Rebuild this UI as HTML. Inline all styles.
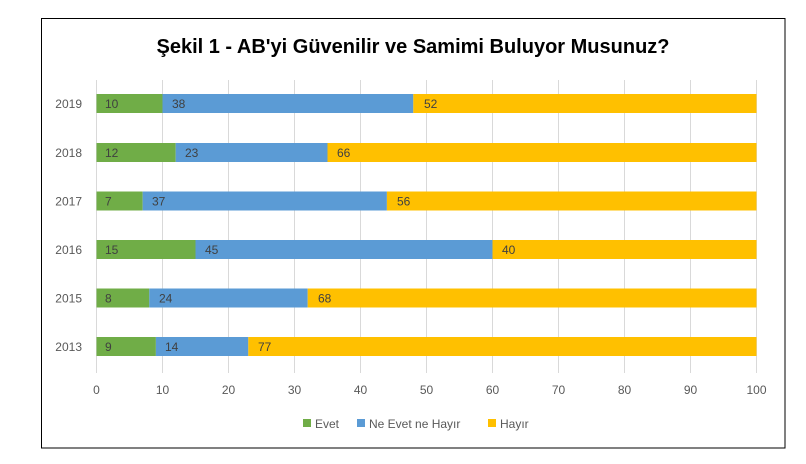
<!DOCTYPE html>
<html><head><meta charset="utf-8"><style>
body{margin:0;background:#fff;}
svg text{font-family:"Liberation Sans",sans-serif;}
</style></head><body>
<svg width="806" height="459" xmlns="http://www.w3.org/2000/svg">
<rect x="0" y="0" width="806" height="459" fill="#fff"/>
<rect x="41.5" y="18.5" width="743.5" height="429.5" fill="#fff" stroke="#000" stroke-width="1"/>
<text x="413" y="53" text-anchor="middle" font-size="20" font-weight="bold" fill="#000">Şekil 1 - AB'yi Güvenilir ve Samimi Buluyor Musunuz?</text>
<g stroke="#d9d9d9" stroke-width="1">
<line x1="96.5" y1="80" x2="96.5" y2="373"/><line x1="162.5" y1="80" x2="162.5" y2="373"/><line x1="228.5" y1="80" x2="228.5" y2="373"/><line x1="294.5" y1="80" x2="294.5" y2="373"/><line x1="360.5" y1="80" x2="360.5" y2="373"/><line x1="426.5" y1="80" x2="426.5" y2="373"/><line x1="492.5" y1="80" x2="492.5" y2="373"/><line x1="558.5" y1="80" x2="558.5" y2="373"/><line x1="624.5" y1="80" x2="624.5" y2="373"/><line x1="690.5" y1="80" x2="690.5" y2="373"/><line x1="756.5" y1="80" x2="756.5" y2="373"/>
</g>
<g font-size="12" fill="#595959" text-anchor="middle">
<text x="96.5" y="394">0</text><text x="162.5" y="394">10</text><text x="228.5" y="394">20</text><text x="294.5" y="394">30</text><text x="360.5" y="394">40</text><text x="426.5" y="394">50</text><text x="492.5" y="394">60</text><text x="558.5" y="394">70</text><text x="624.5" y="394">80</text><text x="690.5" y="394">90</text><text x="756.5" y="394">100</text>
</g>
<g font-size="12" fill="#404040">
<!-- rows: y top, a, b -->
<g transform="translate(0,94)">
<text x="82" y="14" text-anchor="end" fill="#595959">2019</text>
<rect x="96.5" y="0" width="66" height="19" fill="#70AD47"/><rect x="162.5" y="0" width="250.8" height="19" fill="#5B9BD5"/><rect x="413.3" y="0" width="343.2" height="19" fill="#FFC000"/>
<text x="105" y="14">10</text><text x="172" y="14">38</text><text x="424" y="14">52</text></g>
<g transform="translate(0,143)">
<text x="82" y="14" text-anchor="end" fill="#595959">2018</text>
<rect x="96.5" y="0" width="79.2" height="19" fill="#70AD47"/><rect x="175.7" y="0" width="151.8" height="19" fill="#5B9BD5"/><rect x="327.5" y="0" width="429" height="19" fill="#FFC000"/>
<text x="105" y="14">12</text><text x="185" y="14">23</text><text x="337" y="14">66</text></g>
<g transform="translate(0,191.5)">
<text x="82" y="14" text-anchor="end" fill="#595959">2017</text>
<rect x="96.5" y="0" width="46.2" height="19" fill="#70AD47"/><rect x="142.7" y="0" width="244.2" height="19" fill="#5B9BD5"/><rect x="386.9" y="0" width="369.6" height="19" fill="#FFC000"/>
<text x="105" y="14">7</text><text x="152" y="14">37</text><text x="397" y="14">56</text></g>
<g transform="translate(0,240)">
<text x="82" y="14" text-anchor="end" fill="#595959">2016</text>
<rect x="96.5" y="0" width="99" height="19" fill="#70AD47"/><rect x="195.5" y="0" width="297" height="19" fill="#5B9BD5"/><rect x="492.5" y="0" width="264" height="19" fill="#FFC000"/>
<text x="105" y="14">15</text><text x="205" y="14">45</text><text x="502" y="14">40</text></g>
<g transform="translate(0,288.5)">
<text x="82" y="14" text-anchor="end" fill="#595959">2015</text>
<rect x="96.5" y="0" width="52.8" height="19" fill="#70AD47"/><rect x="149.3" y="0" width="158.4" height="19" fill="#5B9BD5"/><rect x="307.7" y="0" width="448.8" height="19" fill="#FFC000"/>
<text x="105" y="14">8</text><text x="159" y="14">24</text><text x="318" y="14">68</text></g>
<g transform="translate(0,337)">
<text x="82" y="14" text-anchor="end" fill="#595959">2013</text>
<rect x="96.5" y="0" width="59.4" height="19" fill="#70AD47"/><rect x="155.9" y="0" width="92.4" height="19" fill="#5B9BD5"/><rect x="248.3" y="0" width="508.2" height="19" fill="#FFC000"/>
<text x="105" y="14">9</text><text x="165" y="14">14</text><text x="258" y="14">77</text></g>
</g>
<g font-size="12" fill="#595959">
<rect x="303" y="419" width="8" height="8" fill="#70AD47"/><text x="315" y="428">Evet</text>
<rect x="357" y="419" width="8" height="8" fill="#5B9BD5"/><text x="369" y="428">Ne Evet ne Hayır</text>
<rect x="488" y="419" width="8" height="8" fill="#FFC000"/><text x="500" y="428">Hayır</text>
</g>
</svg>
</body></html>
